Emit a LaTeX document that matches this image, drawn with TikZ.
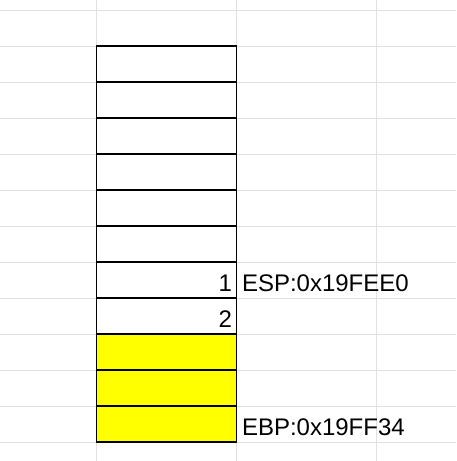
\documentclass[tikz,border=0pt]{standalone}
\usepackage{fontspec}
\setmainfont{Liberation Sans}
\begin{document}
\begin{tikzpicture}[x=1pt,y=-1pt,
  grid/.style={draw={rgb,255:red,225;green,225;blue,225},line width=1pt},
  cell/.style={draw=black,line width=1.2pt,minimum width=140pt,minimum height=36pt,inner sep=0pt,outer sep=0pt},
  filled/.style={cell,fill={rgb,255:red,255;green,255;blue,0}},
  lbl/.style={inner sep=0pt,outer sep=0pt,text=black,font=\fontsize{24}{28.8}\selectfont}]
\path[use as bounding box,fill=white] (0,0) rectangle (456,461);
\foreach \y in {10,46,...,442} \draw[grid] (0,\y) -- (456,\y);
\foreach \x in {96.5,236.5,376.5} \draw[grid] (\x,0) -- (\x,461);
\node[cell] (cell1) at (166.5,64) {};
\node[cell] (cell2) at (166.5,100) {};
\node[cell] (cell3) at (166.5,136) {};
\node[cell] (cell4) at (166.5,172) {};
\node[cell] (cell5) at (166.5,208) {};
\node[cell] (cell6) at (166.5,244) {};
\node[cell] (cell7) at (166.5,280) {};
\node[cell] (cell8) at (166.5,316) {};
\node[filled] (cell9) at (166.5,352) {};
\node[filled] (cell10) at (166.5,388) {};
\node[filled] (cell11) at (166.5,424) {};
\node[lbl,anchor=base east] (one) at (232,291) {1};
\node[lbl,anchor=base east] (two) at (232,327) {2};
\node[lbl,anchor=base west] (esp) at (242,291) {ESP:0x19FEE0};
\node[lbl,anchor=base west] (ebp) at (242,435) {EBP:0x19FF34};
\end{tikzpicture}
\end{document}
